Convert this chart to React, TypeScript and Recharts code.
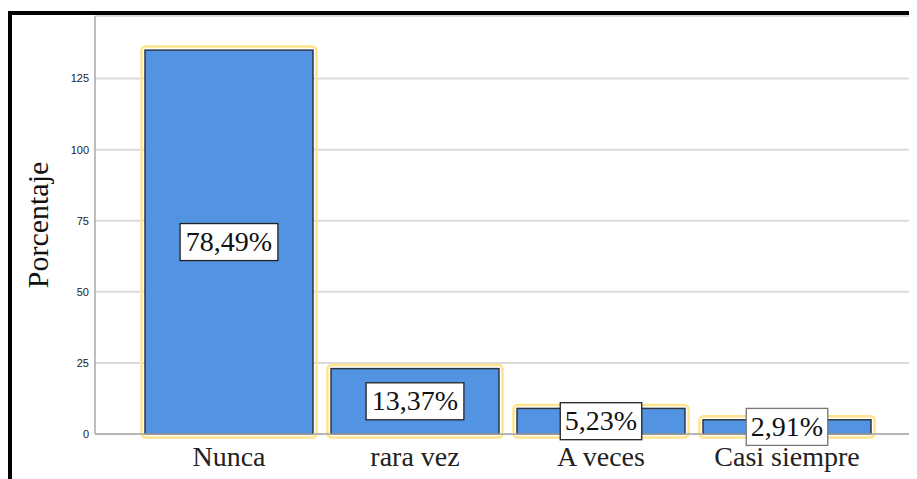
import { BarChart, Bar, XAxis, YAxis, CartesianGrid, LabelList, Label } from "recharts";

const categories = ["Nunca", "rara vez", "A veces", "Casi siempre"];
const counts = [135, 23, 9, 5];
const percentLabels = ["78,49%", "13,37%", "5,23%", "2,91%"];
const yTicks = [0, 25, 50, 75, 100, 125];

const data = categories.map((name, i) => ({
  name,
  count: counts[i],
  pct: percentLabels[i],
}));

const SERIF = '"Liberation Serif", "Times New Roman", serif';
const SANS = '"Liberation Sans", Arial, sans-serif';

const BarShape = (props: any) => {
  const { x, y, width, height } = props;
  const o = 3.5;
  return (
    <g>
      <rect
        x={x - o}
        y={y - o}
        width={width + 2 * o}
        height={height + 2 * o}
        rx={4}
        fill="none"
        stroke="#FFE38A"
        strokeWidth={2.5}
      />
      <rect x={x} y={y} width={width} height={height} fill="#5294E2" stroke="#2E3540" strokeWidth={1.5} />
    </g>
  );
};

const PctLabel = (props: any) => {
  const { x, y, width, height, value } = props;
  const cx = x + width / 2;
  const cy = y + height / 2;
  const w = String(value).length * 16.3;
  const h = 37;
  return (
    <g>
      <rect
        x={cx - w / 2}
        y={cy - h / 2}
        width={w}
        height={h}
        fill="#fff"
        stroke={height < 20 ? "#777" : "#222"}
        strokeWidth={1.3}
      />
      <text
        x={cx}
        y={cy + 9}
        textAnchor="middle"
        fontFamily={SERIF}
        fontSize={28}
        fill="#111"
      >
        {value}
      </text>
    </g>
  );
};

const YTitle = (props: any) => {
  const vb = props.viewBox || { y: 8, height: 418 };
  const cy = vb.y + vb.height / 2;
  return (
    <text
      x={29}
      y={cy}
      transform={`rotate(-90, 29, ${cy})`}
      textAnchor="middle"
      dominantBaseline="central"
      fontFamily={SERIF}
      fontSize={30}
      fill="#111"
    >
      Porcentaje
    </text>
  );
};

export default function App() {
  return (
    <div style={{ position: "relative", width: 909, height: 471 }}>
      <style>{`html, body { overflow: hidden; }`}</style>
      <div
        style={{
          position: "absolute",
          left: 0,
          top: 3,
          width: 905,
          height: 464,
          borderTop: "4px solid #000",
          borderLeft: "4px solid #000",
        }}
      />
      <div style={{ position: "absolute", left: 0, top: 0 }}>
        <BarChart
          width={909}
          height={471}
          data={data}
          margin={{ top: 8, right: 0, left: 27, bottom: 0 }}
        >
          <CartesianGrid vertical={false} stroke="#DADADA" strokeWidth={2} />
          <XAxis
            dataKey="name"
            padding={{ left: 41, right: 37 }}
            height={45}
            tickLine={false}
            tickSize={6}
            tickMargin={6}
            axisLine={{ stroke: "#A8A8A8", strokeWidth: 1.5 }}
            tick={{ fill: "#222", fontSize: 28, fontFamily: SERIF }}
            interval={0}
          />
          <YAxis
            width={60}
            domain={[0, 147]}
            ticks={yTicks}
            tickLine={false}
            tickSize={4}
            tickMargin={2}
            axisLine={{ stroke: "#A8A8A8", strokeWidth: 1.5 }}
            tick={{ fill: "#222", fontSize: 11, fontFamily: SANS }}
          >
            <Label content={YTitle} />
          </YAxis>
          <Bar dataKey="count" barSize={168} shape={BarShape} isAnimationActive={false}>
            <LabelList dataKey="pct" content={PctLabel} />
          </Bar>
        </BarChart>
      </div>
    </div>
  );
}
